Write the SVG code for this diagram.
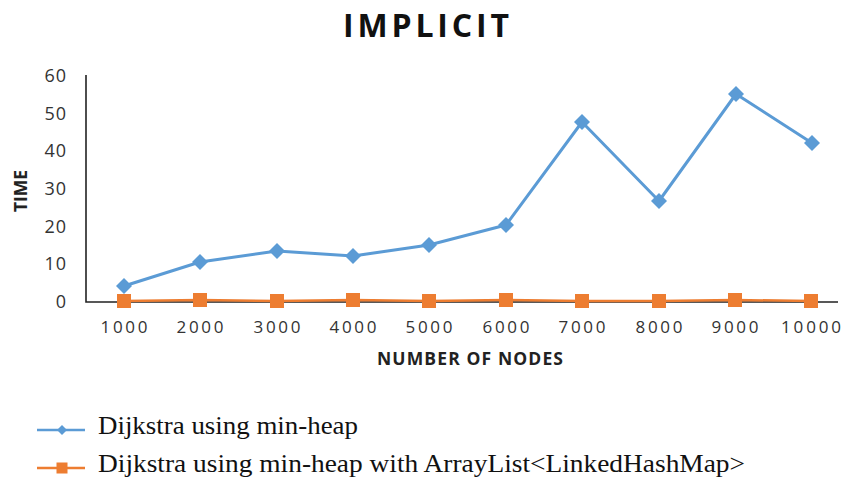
<svg xmlns="http://www.w3.org/2000/svg" width="850" height="479" viewBox="0 0 850 479">
  <style>
    .title { font-family: "Open Sans", "Liberation Sans", sans-serif; font-weight: 700; font-size: 32px; fill: #111; }
    .axis-title { font-family: "Open Sans", "Liberation Sans", sans-serif; font-weight: 700; font-size: 17.5px; fill: #222; }
    .tick { font-family: "Open Sans", "Liberation Sans", sans-serif; font-size: 17px; fill: #333; }
    .ytick { font-family: "Open Sans", "Liberation Sans", sans-serif; font-size: 18px; fill: #333; letter-spacing: 1px; }
    .legend { font-family: "Liberation Serif", "Times New Roman", serif; font-size: 25px; fill: #111; }
    .axis { stroke: #222; stroke-width: 1.6; fill: none; }
    .s1 { stroke: #5B9BD5; stroke-width: 3; fill: none; stroke-linejoin: round; }
    .s2 { stroke: #ED7D31; stroke-width: 2.5; fill: none; }
    .m1 { fill: #5B9BD5; }
    .m2 { fill: #ED7D31; }
  </style>
  <defs>
    <path id="diamond" d="M0,-8 L8,0 L0,8 L-8,0 Z"/>
    <rect id="square" x="-7" y="-7" width="14" height="14"/>
  </defs>

  <rect width="850" height="479" fill="#ffffff"/>

  <text class="title" x="426" y="37" text-anchor="middle" textLength="166" lengthAdjust="spacing">IMPLICIT</text>

  <!-- axes -->
  <g id="axes">
    <path class="axis" d="M86,75 L86,302 L838,302"/>
  </g>

  <!-- y tick labels -->
  <g id="y-ticks" text-anchor="end">
    <text class="ytick" x="67" y="82">60</text>
    <text class="ytick" x="67" y="120">50</text>
    <text class="ytick" x="67" y="157">40</text>
    <text class="ytick" x="67" y="195">30</text>
    <text class="ytick" x="67" y="233">20</text>
    <text class="ytick" x="67" y="270">10</text>
    <text class="ytick" x="67" y="308">0</text>
  </g>

  <!-- x tick labels -->
  <g id="x-ticks" text-anchor="middle">
    <text class="tick" x="124" y="333" textLength="47">1000</text>
    <text class="tick" x="200" y="333" textLength="47">2000</text>
    <text class="tick" x="277" y="333" textLength="47">3000</text>
    <text class="tick" x="353" y="333" textLength="47">4000</text>
    <text class="tick" x="429" y="333" textLength="47">5000</text>
    <text class="tick" x="506" y="333" textLength="47">6000</text>
    <text class="tick" x="582" y="333" textLength="47">7000</text>
    <text class="tick" x="659" y="333" textLength="47">8000</text>
    <text class="tick" x="735" y="333" textLength="47">9000</text>
    <text class="tick" x="811" y="333" textLength="60">10000</text>
  </g>

  <text class="axis-title" x="470" y="365" text-anchor="middle" textLength="186" lengthAdjust="spacing">NUMBER OF NODES</text>
  <text class="axis-title" transform="translate(27,191) rotate(-90)" text-anchor="middle" textLength="42" lengthAdjust="spacing">TIME</text>

  <!-- series: Dijkstra using min-heap with ArrayList -->
  <g id="series-arraylist">
    <polyline class="s2" points="124,301 200,300 277,301 353,300 429,301 506,300 582,301 659,301 735,300 811,301"/>
    <g class="m2">
      <use href="#square" x="124" y="301"/>
      <use href="#square" x="200" y="300"/>
      <use href="#square" x="277" y="301"/>
      <use href="#square" x="353" y="300"/>
      <use href="#square" x="429" y="301"/>
      <use href="#square" x="506" y="300"/>
      <use href="#square" x="582" y="301"/>
      <use href="#square" x="659" y="301"/>
      <use href="#square" x="735" y="300"/>
      <use href="#square" x="811" y="301"/>
    </g>
  </g>

  <!-- series: Dijkstra using min-heap -->
  <g id="series-minheap">
    <polyline class="s1" points="124,286 200,262 277,251 353,256 429,245 506,225 582,122 659,201 736,94 812,143"/>
    <g class="m1">
      <use href="#diamond" x="124" y="286"/>
      <use href="#diamond" x="200" y="262"/>
      <use href="#diamond" x="277" y="251"/>
      <use href="#diamond" x="353" y="256"/>
      <use href="#diamond" x="429" y="245"/>
      <use href="#diamond" x="506" y="225"/>
      <use href="#diamond" x="582" y="122"/>
      <use href="#diamond" x="659" y="201"/>
      <use href="#diamond" x="736" y="94"/>
      <use href="#diamond" x="812" y="143"/>
    </g>
  </g>

  <!-- legend -->
  <g id="legend">
    <line x1="37" y1="430" x2="85" y2="430" stroke="#5B9BD5" stroke-width="2.5"/>
    <path d="M62,425 L67,430 L62,435 L57,430 Z" class="m1"/>
    <text class="legend" x="98" y="434" textLength="260" lengthAdjust="spacingAndGlyphs">Dijkstra using min-heap</text>
    <line x1="37" y1="468" x2="85" y2="468" stroke="#ED7D31" stroke-width="2.5"/>
    <rect x="56.5" y="462.5" width="11" height="11" class="m2"/>
    <text class="legend" x="98" y="472" textLength="647" lengthAdjust="spacingAndGlyphs">Dijkstra using min-heap with ArrayList&lt;LinkedHashMap&gt;</text>
  </g>
</svg>
